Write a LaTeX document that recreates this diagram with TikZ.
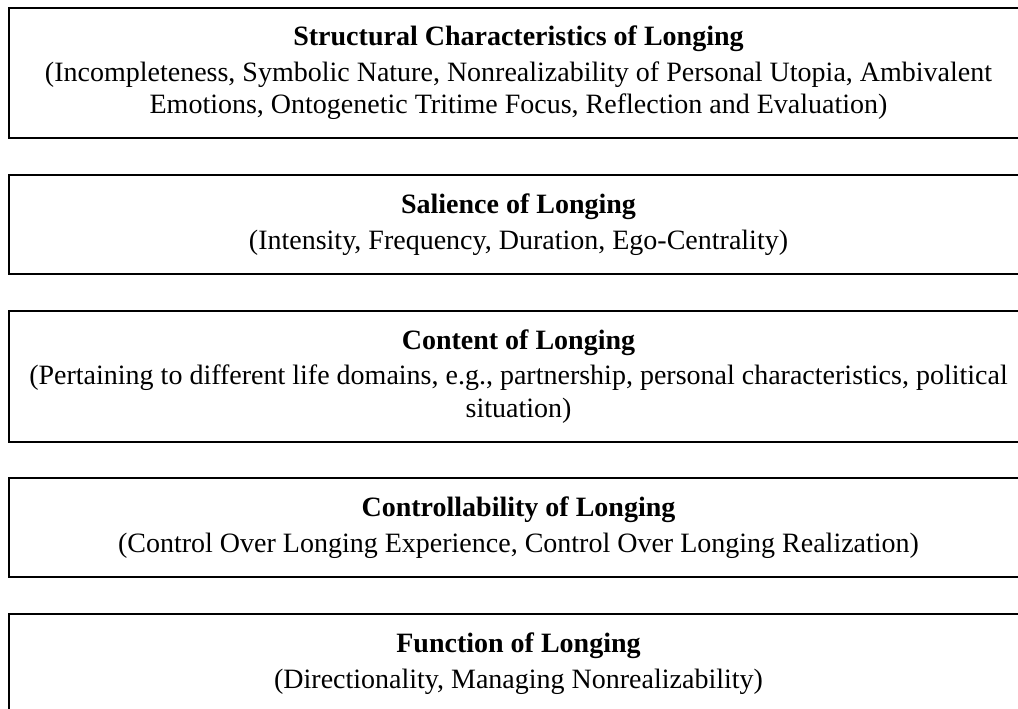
\documentclass[tikz,border=0pt]{standalone}
\usepackage{fontspec}
\setmainfont{Liberation Serif}
\begin{document}
\begin{tikzpicture}[x=1pt,y=-1pt,
  framebox/.style={draw=black, line width=2pt, minimum width=1019pt, inner sep=0pt,
    align=center, font=\fontsize{28}{32.5}\selectfont}]
\useasboundingbox (0,0) rectangle (1018,709);
\clip (0,0) rectangle (1018,709);
\node[framebox, minimum height=130pt] (b1) at (518.5,73)
  {\textbf{Structural Characteristics of Longing}\\[3pt]
   (Incompleteness, Symbolic Nature, Nonrealizability of Personal Utopia, Ambivalent\\
   Emotions, Ontogenetic Tritime Focus, Reflection and Evaluation)};
\node[framebox, minimum height=99pt] (b2) at (518.5,224.5)
  {\textbf{Salience of Longing}\\[3pt]
   (Intensity, Frequency, Duration, Ego-Centrality)};
\node[framebox, minimum height=131pt] (b3) at (518.5,376.5)
  {\textbf{Content of Longing}\\[3pt]
   (Pertaining to different life domains, e.g., partnership, personal characteristics, political\\
   situation)};
\node[framebox, minimum height=99pt] (b4) at (518.5,527.5)
  {\textbf{Controllability of Longing}\\[3pt]
   (Control Over Longing Experience, Control Over Longing Realization)};
\node[framebox, minimum height=99pt] (b5) at (518.5,663.5)
  {\textbf{Function of Longing}\\[3pt]
   (Directionality, Managing Nonrealizability)};
\end{tikzpicture}
\end{document}
